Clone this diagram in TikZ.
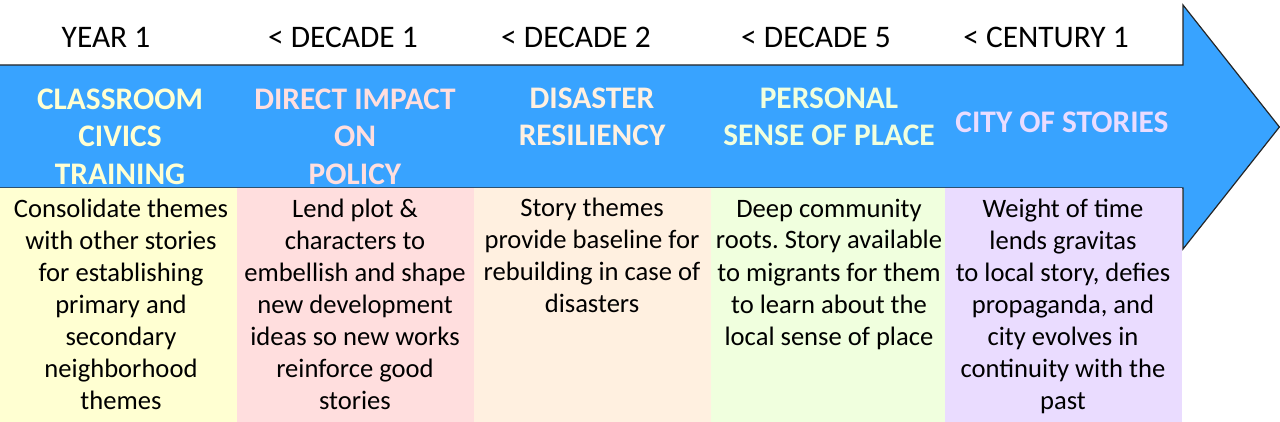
\documentclass[tikz,border=0pt]{standalone}
\usepackage{fontspec}
\setmainfont{Carlito}
\usetikzlibrary{positioning}
\frenchspacing

\definecolor{arrowblue}{RGB}{56,163,255}
\definecolor{yellowbox}{RGB}{255,255,210}
\definecolor{pinkbox}{RGB}{255,222,222}
\definecolor{peachbox}{RGB}{255,240,224}
\definecolor{greenbox}{RGB}{240,255,222}
\definecolor{lavbox}{RGB}{234,220,255}

\begin{document}
\begin{tikzpicture}[x=0.5pt, y=-0.5pt,
    when/.style={anchor=base, font=\fontsize{15.7}{18.75}\selectfont},
    stage/.style={anchor=base, align=center, font=\fontsize{15.7}{18.75}\selectfont\bfseries},
    colbox/.style={minimum width=118.5pt, minimum height=117pt, inner sep=0pt, outer sep=0pt},
    story/.style={anchor=base, align=center, font=\fontsize{13.3}{16}\selectfont}]
    \useasboundingbox (0,0) rectangle (1280,422);
    % - The big arrow
    \draw[fill=arrowblue, draw=black!85, line width=0.6pt](-10,65)--(1183,65)--(1183,5)--(1279.4,127)--(1183,249)--(1183,188)--(-10,188);
    % - Coloured boxes under the arrow
    \node[colbox, anchor=north west, fill=yellowbox] (box1) at (0,188){};
    \node[colbox, fill=pinkbox, right=0pt of box1] (box2){};
    \node[colbox, fill=peachbox, right=0pt of box2] (box3){};
    \node[colbox, minimum width=117pt, fill=greenbox, right=0pt of box3] (box4){};
    \node[colbox, fill=lavbox, right=0pt of box4] (box5){};
    % - Time labels
    \node[when] (when1) at (106,48){YEAR 1};
    \node[when] (when2) at (343,48){< DECADE 1};
    \node[when] (when3) at (576,48){< DECADE 2};
    \node[when] (when4) at (816,48){< DECADE 5};
    \node[when] (when5) at (1046,48){< CENTURY 1};
    % - Stage titles on the arrow (base = last line)
    \node[stage, text=yellowbox] (stage1) at (120,184.5){CLASSROOM\\CIVICS\\TRAINING};
    \node[stage, text=pinkbox] (stage2) at (355,184.5){DIRECT IMPACT\\ON\\POLICY};
    \node[stage, text=peachbox] (stage3) at (592,146){DISASTER\\RESILIENCY};
    \node[stage, text=greenbox] (stage4) at (829,146){PERSONAL\\SENSE OF PLACE};
    \node[stage, text=lavbox] (stage5) at (1062,133){CITY OF STORIES};
    % - Story texts (base = last line)
    \node[story] (story1) at (121,409){Consolidate themes\\with other stories\\for establishing\\primary and\\secondary\\neighborhood\\themes};
    \node[story] (story2) at (355,409){Lend plot \&\\characters to\\embellish and shape\\new development\\ideas so new works\\reinforce good\\stories};
    \node[story] (story3) at (592,313){Story themes\\provide baseline for\\rebuilding in case of\\disasters};
    \node[story] (story4) at (829,345){Deep community\\roots. Story available\\to migrants for them\\to learn about the\\local sense of place};
    \node[story] (story5) at (1063,409){Weight of time\\lends gravitas\\to local story, defies\\propaganda, and\\city evolves in\\continuity with the\\past};
\end{tikzpicture}
\end{document}
